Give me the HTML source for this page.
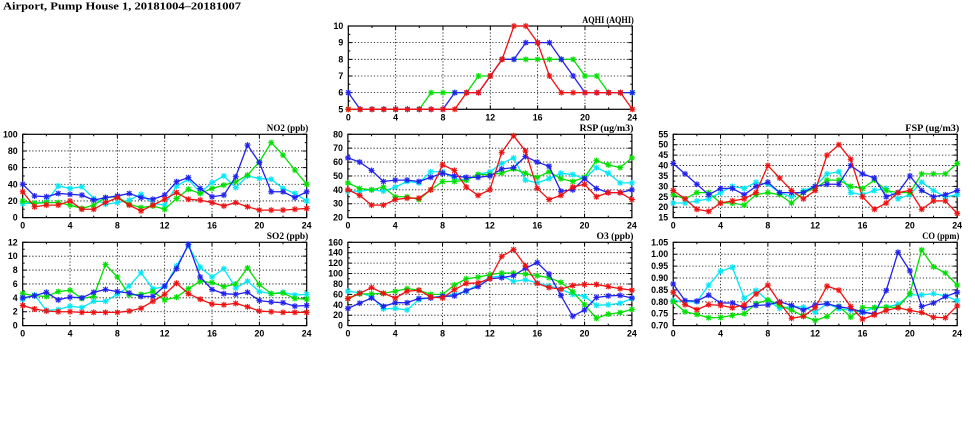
<!DOCTYPE html>
<html>
<head>
<meta charset="utf-8">
<style>
html,body{margin:0;padding:0;background:#fff;}
svg{display:block;}
.s{fill:none;stroke-width:1.3;vector-effect:non-scaling-stroke;stroke-linejoin:round;}
.tl{font-family:"Liberation Sans",sans-serif;font-weight:bold;font-size:8.8px;fill:#000;}
.ty{text-anchor:end;}
.tx{text-anchor:middle;}
.tt{font-family:"Liberation Serif",serif;font-weight:bold;font-size:9px;text-anchor:end;fill:#000;}
.gr{stroke:#000;stroke-width:0.8;stroke-dasharray:1.2 2;fill:none;}
.tk{stroke:#000;}
</style>
</head>
<body>
<svg width="975" height="447" viewBox="0 0 975 447" xmlns="http://www.w3.org/2000/svg">
<rect width="975" height="447" fill="#fff"/>
<defs>
<g id="pB"><rect x="-2.5" y="-2.5" width="5" height="5" fill="#2020f0" fill-opacity=".25"/><path d="M-3 0H3M0-3V3M-2.2-2.2L2.2 2.2M-2.2 2.2L2.2-2.2" stroke="#2020f0" stroke-width="1"/></g>
<g id="pC"><rect x="-2.5" y="-2.5" width="5" height="5" fill="#00e8f8" fill-opacity=".25"/><path d="M-3 0H3M0-3V3M-2.2-2.2L2.2 2.2M-2.2 2.2L2.2-2.2" stroke="#00e8f8" stroke-width="1"/></g>
<g id="pG"><rect x="-2.5" y="-2.5" width="5" height="5" fill="#00e000" fill-opacity=".25"/><path d="M-3 0H3M0-3V3M-2.2-2.2L2.2 2.2M-2.2 2.2L2.2-2.2" stroke="#00e000" stroke-width="1"/></g>
<g id="pR"><rect x="-2.5" y="-2.5" width="5" height="5" fill="#f01010" fill-opacity=".25"/><path d="M-3 0H3M0-3V3M-2.2-2.2L2.2 2.2M-2.2 2.2L2.2-2.2" stroke="#f01010" stroke-width="1"/></g>

<marker id="AB" viewBox="-3 -3 6 6" preserveAspectRatio="none" markerUnits="userSpaceOnUse" markerWidth="0.50704" markerHeight="0.36014" overflow="visible"><use href="#pB"/></marker>
<marker id="AG" viewBox="-3 -3 6 6" preserveAspectRatio="none" markerUnits="userSpaceOnUse" markerWidth="0.50704" markerHeight="0.36014" overflow="visible"><use href="#pG"/></marker>
<marker id="AR" viewBox="-3 -3 6 6" preserveAspectRatio="none" markerUnits="userSpaceOnUse" markerWidth="0.50704" markerHeight="0.36014" overflow="visible"><use href="#pR"/></marker>

<marker id="NB" viewBox="-3 -3 6 6" preserveAspectRatio="none" markerUnits="userSpaceOnUse" markerWidth="0.50704" markerHeight="7.2029" overflow="visible"><use href="#pB"/></marker>
<marker id="NC" viewBox="-3 -3 6 6" preserveAspectRatio="none" markerUnits="userSpaceOnUse" markerWidth="0.50704" markerHeight="7.2029" overflow="visible"><use href="#pC"/></marker>
<marker id="NG" viewBox="-3 -3 6 6" preserveAspectRatio="none" markerUnits="userSpaceOnUse" markerWidth="0.50704" markerHeight="7.2029" overflow="visible"><use href="#pG"/></marker>
<marker id="NR" viewBox="-3 -3 6 6" preserveAspectRatio="none" markerUnits="userSpaceOnUse" markerWidth="0.50704" markerHeight="7.2029" overflow="visible"><use href="#pR"/></marker>

<marker id="RB" viewBox="-3 -3 6 6" preserveAspectRatio="none" markerUnits="userSpaceOnUse" markerWidth="0.50704" markerHeight="4.3217" overflow="visible"><use href="#pB"/></marker>
<marker id="RC" viewBox="-3 -3 6 6" preserveAspectRatio="none" markerUnits="userSpaceOnUse" markerWidth="0.50704" markerHeight="4.3217" overflow="visible"><use href="#pC"/></marker>
<marker id="RG" viewBox="-3 -3 6 6" preserveAspectRatio="none" markerUnits="userSpaceOnUse" markerWidth="0.50704" markerHeight="4.3217" overflow="visible"><use href="#pG"/></marker>
<marker id="RR" viewBox="-3 -3 6 6" preserveAspectRatio="none" markerUnits="userSpaceOnUse" markerWidth="0.50704" markerHeight="4.3217" overflow="visible"><use href="#pR"/></marker>

<marker id="FB" viewBox="-3 -3 6 6" preserveAspectRatio="none" markerUnits="userSpaceOnUse" markerWidth="0.50704" markerHeight="2.8812" overflow="visible"><use href="#pB"/></marker>
<marker id="FC" viewBox="-3 -3 6 6" preserveAspectRatio="none" markerUnits="userSpaceOnUse" markerWidth="0.50704" markerHeight="2.8812" overflow="visible"><use href="#pC"/></marker>
<marker id="FG" viewBox="-3 -3 6 6" preserveAspectRatio="none" markerUnits="userSpaceOnUse" markerWidth="0.50704" markerHeight="2.8812" overflow="visible"><use href="#pG"/></marker>
<marker id="FR" viewBox="-3 -3 6 6" preserveAspectRatio="none" markerUnits="userSpaceOnUse" markerWidth="0.50704" markerHeight="2.8812" overflow="visible"><use href="#pR"/></marker>

<marker id="SB" viewBox="-3 -3 6 6" preserveAspectRatio="none" markerUnits="userSpaceOnUse" markerWidth="0.50704" markerHeight="0.86435" overflow="visible"><use href="#pB"/></marker>
<marker id="SC" viewBox="-3 -3 6 6" preserveAspectRatio="none" markerUnits="userSpaceOnUse" markerWidth="0.50704" markerHeight="0.86435" overflow="visible"><use href="#pC"/></marker>
<marker id="SG" viewBox="-3 -3 6 6" preserveAspectRatio="none" markerUnits="userSpaceOnUse" markerWidth="0.50704" markerHeight="0.86435" overflow="visible"><use href="#pG"/></marker>
<marker id="SR" viewBox="-3 -3 6 6" preserveAspectRatio="none" markerUnits="userSpaceOnUse" markerWidth="0.50704" markerHeight="0.86435" overflow="visible"><use href="#pR"/></marker>

<marker id="OB" viewBox="-3 -3 6 6" preserveAspectRatio="none" markerUnits="userSpaceOnUse" markerWidth="0.50704" markerHeight="11.5246" overflow="visible"><use href="#pB"/></marker>
<marker id="OC" viewBox="-3 -3 6 6" preserveAspectRatio="none" markerUnits="userSpaceOnUse" markerWidth="0.50704" markerHeight="11.5246" overflow="visible"><use href="#pC"/></marker>
<marker id="OG" viewBox="-3 -3 6 6" preserveAspectRatio="none" markerUnits="userSpaceOnUse" markerWidth="0.50704" markerHeight="11.5246" overflow="visible"><use href="#pG"/></marker>
<marker id="OR" viewBox="-3 -3 6 6" preserveAspectRatio="none" markerUnits="userSpaceOnUse" markerWidth="0.50704" markerHeight="11.5246" overflow="visible"><use href="#pR"/></marker>

<marker id="CB" viewBox="-3 -3 6 6" preserveAspectRatio="none" markerUnits="userSpaceOnUse" markerWidth="0.50704" markerHeight="0.02521" overflow="visible"><use href="#pB"/></marker>
<marker id="CC" viewBox="-3 -3 6 6" preserveAspectRatio="none" markerUnits="userSpaceOnUse" markerWidth="0.50704" markerHeight="0.02521" overflow="visible"><use href="#pC"/></marker>
<marker id="CG" viewBox="-3 -3 6 6" preserveAspectRatio="none" markerUnits="userSpaceOnUse" markerWidth="0.50704" markerHeight="0.02521" overflow="visible"><use href="#pG"/></marker>
<marker id="CR" viewBox="-3 -3 6 6" preserveAspectRatio="none" markerUnits="userSpaceOnUse" markerWidth="0.50704" markerHeight="0.02521" overflow="visible"><use href="#pR"/></marker>

<g id="base">
<path class="gr" d="M47.33 0V83.3M94.67 0V83.3M142 0V83.3M189.33 0V83.3M236.67 0V83.3"/>
<line class="tk" x1="-0.5" y1="81.3" x2="284.5" y2="81.3" stroke-width="4" stroke-dasharray="1 46.333"/>
<line class="tk" x1="-0.5" y1="2" x2="284.5" y2="2" stroke-width="4" stroke-dasharray="1 46.333"/>
<line class="tk" x1="23.167" y1="82.3" x2="260.833" y2="82.3" stroke-width="2" stroke-dasharray="1 46.333"/>
<line class="tk" x1="23.167" y1="1" x2="260.833" y2="1" stroke-width="2" stroke-dasharray="1 46.333"/>
<rect x="0" y="0" width="284" height="83.3" fill="none" stroke="#000" stroke-width="1.2"/>
</g>
<g id="yt166">
<line class="tk" x1="2" y1="-0.5" x2="2" y2="83.8" stroke-width="4" stroke-dasharray="1 15.66"/>
<line class="tk" x1="282" y1="-0.5" x2="282" y2="83.8" stroke-width="4" stroke-dasharray="1 15.66"/>
<line class="tk" x1="1" y1="7.83" x2="1" y2="75.47" stroke-width="2" stroke-dasharray="1 15.66"/>
<line class="tk" x1="283" y1="7.83" x2="283" y2="75.47" stroke-width="2" stroke-dasharray="1 15.66"/>
</g>
<g id="yt138">
<line class="tk" x1="2" y1="-0.5" x2="2" y2="83.8" stroke-width="4" stroke-dasharray="1 12.883"/>
<line class="tk" x1="282" y1="-0.5" x2="282" y2="83.8" stroke-width="4" stroke-dasharray="1 12.883"/>
<line class="tk" x1="1" y1="6.44" x2="1" y2="76.86" stroke-width="2" stroke-dasharray="1 12.883"/>
<line class="tk" x1="283" y1="6.44" x2="283" y2="76.86" stroke-width="2" stroke-dasharray="1 12.883"/>
</g>
<g id="yt104">
<line class="tk" x1="2" y1="-0.5" x2="2" y2="83.8" stroke-width="4" stroke-dasharray="1 9.4125"/>
<line class="tk" x1="282" y1="-0.5" x2="282" y2="83.8" stroke-width="4" stroke-dasharray="1 9.4125"/>
<line class="tk" x1="1" y1="4.706" x2="1" y2="78.594" stroke-width="2" stroke-dasharray="1 9.4125"/>
<line class="tk" x1="283" y1="4.706" x2="283" y2="78.594" stroke-width="2" stroke-dasharray="1 9.4125"/>
</g>
<g id="yt119">
<line class="tk" x1="2" y1="-0.5" x2="2" y2="83.8" stroke-width="4" stroke-dasharray="1 10.9"/>
<line class="tk" x1="282" y1="-0.5" x2="282" y2="83.8" stroke-width="4" stroke-dasharray="1 10.9"/>
<line class="tk" x1="1" y1="5.45" x2="1" y2="77.85" stroke-width="2" stroke-dasharray="1 10.9"/>
<line class="tk" x1="283" y1="5.45" x2="283" y2="77.85" stroke-width="2" stroke-dasharray="1 10.9"/>
</g>
</defs>

<text x="3" y="9.5" font-family="Liberation Serif, serif" font-weight="bold" font-size="10.5" textLength="238" lengthAdjust="spacingAndGlyphs">Airport, Pump House 1, 20181004–20181007</text>

<!-- AQHI -->
<text class="tt" x="633.8" y="23" textLength="51.5" lengthAdjust="spacingAndGlyphs">AQHI (AQHI)</text>
<g transform="translate(348.3,26)">
<path class="gr" d="M0 16.66H284M0 33.32H284M0 49.98H284M0 66.64H284"/>
<use href="#base"/><use href="#yt166"/>
<text class="tl ty" x="-5" y="3">10</text>
<text class="tl ty" x="-5" y="19.66">9</text>
<text class="tl ty" x="-5" y="36.32">8</text>
<text class="tl ty" x="-5" y="52.98">7</text>
<text class="tl ty" x="-5" y="69.64">6</text>
<text class="tl ty" x="-5" y="86.3">5</text>
<text class="tl tx" x="0" y="94.5">0</text>
<text class="tl tx" x="47.33" y="94.5">4</text>
<text class="tl tx" x="94.67" y="94.5">8</text>
<text class="tl tx" x="142" y="94.5">12</text>
<text class="tl tx" x="189.33" y="94.5">16</text>
<text class="tl tx" x="236.67" y="94.5">20</text>
<text class="tl tx" x="284" y="94.5">24</text>
<g transform="matrix(11.8333,0,0,-16.66,0,166.6)">
<polyline class="s" stroke="#00e000" style="marker:url(#AG)" points="0,5 1,5 2,5 3,5 4,5 5,5 6,5 7,6 8,6 9,6 10,6 11,7 12,7 13,8 14,8 15,8 16,8 17,8 18,8 19,8 20,7 21,7 22,6 23,6 24,6"/>
<polyline class="s" stroke="#2020f0" style="marker:url(#AB)" points="0,6 1,5 2,5 3,5 4,5 5,5 6,5 7,5 8,5 9,6 10,6 11,6 12,7 13,8 14,8 15,9 16,9 17,9 18,8 19,7 20,6 21,6 22,6 23,6 24,6"/>
<polyline class="s" stroke="#f01010" style="marker:url(#AR)" points="0,5 1,5 2,5 3,5 4,5 5,5 6,5 7,5 8,5 9,5 10,6 11,6 12,7 13,8 14,10 15,10 16,9 17,7 18,6 19,6 20,6 21,6 22,6 23,6 24,5"/>
</g>
</g>

<!-- NO2 -->
<text class="tt" x="308.3" y="131" textLength="41.5" lengthAdjust="spacingAndGlyphs">NO2 (ppb)</text>
<g transform="translate(22.7,134.3)">
<path class="gr" d="M0 16.66H284M0 33.32H284M0 49.98H284M0 66.64H284"/>
<use href="#base"/><use href="#yt166"/>
<text class="tl ty" x="-5" y="3">100</text>
<text class="tl ty" x="-5" y="19.66">80</text>
<text class="tl ty" x="-5" y="36.32">60</text>
<text class="tl ty" x="-5" y="52.98">40</text>
<text class="tl ty" x="-5" y="69.64">20</text>
<text class="tl ty" x="-5" y="86.3">0</text>
<text class="tl tx" x="0" y="94">0</text>
<text class="tl tx" x="47.33" y="94">4</text>
<text class="tl tx" x="94.67" y="94">8</text>
<text class="tl tx" x="142" y="94">12</text>
<text class="tl tx" x="189.33" y="94">16</text>
<text class="tl tx" x="236.67" y="94">20</text>
<text class="tl tx" x="284" y="94">24</text>
<g transform="matrix(11.8333,0,0,-0.833,0,83.3)">
<polyline class="s" stroke="#00e8f8" style="marker:url(#NC)" points="0,17 1,17 2,19 3,38 4,35 5,37 6,23 7,16 8,18 9,21 10,28 11,17 12,15 13,38 14,46 15,30 16,42 17,50 18,36 19,50 20,47 21,46 22,35 23,29 24,20"/>
<polyline class="s" stroke="#00e000" style="marker:url(#NG)" points="0,20 1,17 2,18 3,18 4,15 5,11 6,15 7,24 8,25 9,16 10,12 11,14 12,10 13,23 14,34 15,29 16,35 17,39 18,43 19,51 20,67 21,90 22,75 23,57 24,40"/>
<polyline class="s" stroke="#2020f0" style="marker:url(#NB)" points="0,40 1,26 2,25 3,29 4,28 5,27 6,21 7,24 8,26 9,29 10,24 11,22 12,27 13,43 14,48 15,35 16,25 17,27 18,49 19,87 20,66 21,31 22,31 23,24 24,31"/>
<polyline class="s" stroke="#f01010" style="marker:url(#NR)" points="0,31 1,13 2,15 3,15 4,20 5,10 6,10 7,18 8,24 9,15 10,8 11,15 12,22 13,30 14,22 15,21 16,18 17,14 18,18 19,13 20,9 21,9 22,9 23,10 24,11"/>
</g>
</g>

<!-- RSP -->
<text class="tt" x="633.5" y="131" textLength="54" lengthAdjust="spacingAndGlyphs">RSP (ug/m3)</text>
<g transform="translate(347.9,134.3)">
<path class="gr" d="M0 13.883H284M0 27.767H284M0 41.65H284M0 55.533H284M0 69.417H284"/>
<use href="#base"/><use href="#yt138"/>
<text class="tl ty" x="-5" y="3">80</text>
<text class="tl ty" x="-5" y="16.88">70</text>
<text class="tl ty" x="-5" y="30.77">60</text>
<text class="tl ty" x="-5" y="44.65">50</text>
<text class="tl ty" x="-5" y="58.53">40</text>
<text class="tl ty" x="-5" y="72.42">30</text>
<text class="tl ty" x="-5" y="86.3">20</text>
<text class="tl tx" x="0" y="94">0</text>
<text class="tl tx" x="47.33" y="94">4</text>
<text class="tl tx" x="94.67" y="94">8</text>
<text class="tl tx" x="142" y="94">12</text>
<text class="tl tx" x="189.33" y="94">16</text>
<text class="tl tx" x="236.67" y="94">20</text>
<text class="tl tx" x="284" y="94">24</text>
<g transform="matrix(11.8333,0,0,-1.38833,0,111.067)">
<polyline class="s" stroke="#00e8f8" style="marker:url(#RC)" points="0,39 1,39 2,40 3,39 4,42 5,46 6,45 7,53 8,53 9,48 10,47 11,51 12,53 13,59 14,63 15,47 16,45 17,48 18,52 19,51 20,48 21,56 22,52 23,45 24,45"/>
<polyline class="s" stroke="#00e000" style="marker:url(#RG)" points="0,45 1,41 2,40 3,42 4,35 5,35 6,33 7,40 8,46 9,46 10,47 11,51 12,51 13,52 14,55 15,52 16,49 17,53 18,48 19,46 20,49 21,61 22,58 23,56 24,63"/>
<polyline class="s" stroke="#2020f0" style="marker:url(#RB)" points="0,63 1,60 2,54 3,46 4,47 5,47 6,46 7,49 8,52 9,50 10,49 11,49 12,50 13,55 14,56 15,64 16,60 17,57 18,39 19,40 20,48 21,41 22,38 23,38 24,40"/>
<polyline class="s" stroke="#f01010" style="marker:url(#RR)" points="0,40 1,36 2,29 3,29 4,33 5,34 6,34 7,40 8,58 9,54 10,42 11,36 12,40 13,67 14,79 15,68 16,41 17,33 18,36 19,42 20,44 21,35 22,38 23,38 24,33"/>
</g>
</g>

<!-- FSP -->
<text class="tt" x="959.3" y="131" textLength="54" lengthAdjust="spacingAndGlyphs">FSP (ug/m3)</text>
<g transform="translate(673.2,134.3)">
<path class="gr" d="M0 10.41H284M0 20.83H284M0 31.24H284M0 41.65H284M0 52.06H284M0 62.48H284M0 72.89H284"/>
<use href="#base"/><use href="#yt104"/>
<text class="tl ty" x="-5" y="3">55</text>
<text class="tl ty" x="-5" y="13.41">50</text>
<text class="tl ty" x="-5" y="23.83">45</text>
<text class="tl ty" x="-5" y="34.24">40</text>
<text class="tl ty" x="-5" y="44.65">35</text>
<text class="tl ty" x="-5" y="55.06">30</text>
<text class="tl ty" x="-5" y="65.48">25</text>
<text class="tl ty" x="-5" y="75.89">20</text>
<text class="tl ty" x="-5" y="86.3">15</text>
<text class="tl tx" x="0" y="94">0</text>
<text class="tl tx" x="47.33" y="94">4</text>
<text class="tl tx" x="94.67" y="94">8</text>
<text class="tl tx" x="142" y="94">12</text>
<text class="tl tx" x="189.33" y="94">16</text>
<text class="tl tx" x="236.67" y="94">20</text>
<text class="tl tx" x="284" y="94">24</text>
<g transform="matrix(11.8333,0,0,-2.0825,0,114.5375)">
<polyline class="s" stroke="#00e8f8" style="marker:url(#FC)" points="0,22 1,22 2,23 3,24 4,27 5,30 6,29 7,32 8,31 9,27 10,25 11,28 12,30 13,36 14,37 15,27 16,26 17,28 18,29 19,24 20,26 21,32 22,28 23,25 24,26"/>
<polyline class="s" stroke="#00e000" style="marker:url(#FG)" points="0,26 1,24 2,27 3,27 4,22 5,22 6,21 7,26 8,27 9,26 10,22 11,27 12,29 13,33 14,33 15,30 16,29 17,33 18,28 19,27 20,27 21,36 22,36 23,36 24,41"/>
<polyline class="s" stroke="#2020f0" style="marker:url(#FB)" points="0,41 1,36 2,31 3,26 4,29 5,29 6,26 7,30 8,32 9,27 10,27 11,27 12,30 13,31 14,31 15,40 16,36 17,34 18,25 19,27 20,35 21,28 22,25 23,26 24,28"/>
<polyline class="s" stroke="#f01010" style="marker:url(#FR)" points="0,28 1,24 2,19 3,18 4,22 5,23 6,24 7,27 8,40 9,34 10,28 11,24 12,28 13,45 14,50 15,43 16,25 17,19 18,22 19,27 20,28 21,19 22,23 23,23 24,17"/>
</g>
</g>

<!-- SO2 -->
<text class="tt" x="308.3" y="238.8" textLength="41.5" lengthAdjust="spacingAndGlyphs">SO2 (ppb)</text>
<g transform="translate(22.7,242.3)">
<path class="gr" d="M0 13.883H284M0 27.767H284M0 41.65H284M0 55.533H284M0 69.417H284"/>
<use href="#base"/><use href="#yt138"/>
<text class="tl ty" x="-5" y="3">12</text>
<text class="tl ty" x="-5" y="16.88">10</text>
<text class="tl ty" x="-5" y="30.77">8</text>
<text class="tl ty" x="-5" y="44.65">6</text>
<text class="tl ty" x="-5" y="58.53">4</text>
<text class="tl ty" x="-5" y="72.42">2</text>
<text class="tl ty" x="-5" y="86.3">0</text>
<text class="tl tx" x="0" y="94">0</text>
<text class="tl tx" x="47.33" y="94">4</text>
<text class="tl tx" x="94.67" y="94">8</text>
<text class="tl tx" x="142" y="94">12</text>
<text class="tl tx" x="189.33" y="94">16</text>
<text class="tl tx" x="236.67" y="94">20</text>
<text class="tl tx" x="284" y="94">24</text>
<g transform="matrix(11.8333,0,0,-6.94167,0,83.3)">
<polyline class="s" stroke="#00e8f8" style="marker:url(#SC)" points="0,3.8 1,4.4 2,2.2 3,2.3 4,2.8 5,2.6 6,3.5 7,3.5 8,4.5 9,5.7 10,7.6 11,5.3 12,5.6 13,8.6 14,11.5 15,8.4 16,7 17,8.2 18,5.4 19,6.4 20,4.9 21,4.6 22,4.8 23,4.4 24,4.5"/>
<polyline class="s" stroke="#00e000" style="marker:url(#SG)" points="0,4.6 1,4.3 2,4.2 3,4.9 4,5.1 5,3.9 6,4.2 7,8.8 8,7 9,4.4 10,4.5 11,4.9 12,3.7 13,4.1 14,5.3 15,6.4 16,6.2 17,5.6 18,6 19,8.3 20,5.9 21,4.6 22,4.7 23,3.9 24,3.8"/>
<polyline class="s" stroke="#2020f0" style="marker:url(#SB)" points="0,4 1,4.3 2,4.8 3,3.7 4,4.1 5,4 6,4.8 7,5.2 8,4.9 9,4.7 10,4.2 11,4.2 12,5.7 13,8.2 14,11.7 15,7 16,5.2 17,4.6 18,4.5 19,4.8 20,3.6 21,3.4 22,3.3 23,2.8 24,2.9"/>
<polyline class="s" stroke="#f01010" style="marker:url(#SR)" points="0,2.9 1,2.4 2,2.1 3,2 4,2 5,1.9 6,1.9 7,1.9 8,1.9 9,2.1 10,2.5 11,3.5 12,4.5 13,6.1 14,4.6 15,3.8 16,3.1 17,3 18,3.2 19,2.7 20,2.1 21,2 22,1.9 23,1.9 24,1.9"/>
</g>
</g>

<!-- O3 -->
<text class="tt" x="633.5" y="238.8" textLength="37" lengthAdjust="spacingAndGlyphs">O3 (ppb)</text>
<g transform="translate(347.9,242.3)">
<path class="gr" d="M0 10.41H284M0 20.83H284M0 31.24H284M0 41.65H284M0 52.06H284M0 62.48H284M0 72.89H284"/>
<use href="#base"/><use href="#yt104"/>
<text class="tl ty" x="-5" y="3">160</text>
<text class="tl ty" x="-5" y="13.41">140</text>
<text class="tl ty" x="-5" y="23.83">120</text>
<text class="tl ty" x="-5" y="34.24">100</text>
<text class="tl ty" x="-5" y="44.65">80</text>
<text class="tl ty" x="-5" y="55.06">60</text>
<text class="tl ty" x="-5" y="65.48">40</text>
<text class="tl ty" x="-5" y="75.89">20</text>
<text class="tl ty" x="-5" y="86.3">0</text>
<text class="tl tx" x="0" y="94">0</text>
<text class="tl tx" x="47.33" y="94">4</text>
<text class="tl tx" x="94.67" y="94">8</text>
<text class="tl tx" x="142" y="94">12</text>
<text class="tl tx" x="189.33" y="94">16</text>
<text class="tl tx" x="236.67" y="94">20</text>
<text class="tl tx" x="284" y="94">24</text>
<g transform="matrix(11.8333,0,0,-0.520625,0,83.3)">
<polyline class="s" stroke="#00e8f8" style="marker:url(#OC)" points="0,66 1,63 2,56 3,32 4,33 5,30 6,50 7,54 8,57 9,60 10,66 11,79 12,93 13,95 14,85 15,88 16,82 17,76 18,70 19,60 20,56 21,39 22,40 23,43 24,52"/>
<polyline class="s" stroke="#00e000" style="marker:url(#OG)" points="0,52 1,61 2,61 3,62 4,66 5,71 6,68 7,60 8,60 9,78 10,90 11,93 12,98 13,101 14,101 15,99 16,96 17,92 18,83 19,65 20,40 21,14 22,22 23,25 24,31"/>
<polyline class="s" stroke="#2020f0" style="marker:url(#OB)" points="0,33 1,43 2,53 3,37 4,44 5,44 6,52 7,53 8,56 9,57 10,67 11,75 12,90 13,92 14,96 15,110 16,121 17,99 18,58 19,18 20,30 21,54 22,57 23,58 24,53"/>
<polyline class="s" stroke="#f01010" style="marker:url(#OR)" points="0,52 1,62 2,73 3,62 4,53 5,66 6,68 7,55 8,53 9,69 10,81 11,82 12,90 13,133 14,146 15,115 16,81 17,73 18,70 19,77 20,79 21,79 22,75 23,71 24,68"/>
</g>
</g>

<!-- CO -->
<text class="tt" x="959.3" y="238.8" textLength="37" lengthAdjust="spacingAndGlyphs">CO (ppm)</text>
<g transform="translate(673.2,242.3)">
<path class="gr" d="M0 11.9H284M0 23.8H284M0 35.7H284M0 47.6H284M0 59.5H284M0 71.4H284"/>
<use href="#base"/><use href="#yt119"/>
<text class="tl ty" x="-5" y="3">1.05</text>
<text class="tl ty" x="-5" y="14.9">1.00</text>
<text class="tl ty" x="-5" y="26.8">0.95</text>
<text class="tl ty" x="-5" y="38.7">0.90</text>
<text class="tl ty" x="-5" y="50.6">0.85</text>
<text class="tl ty" x="-5" y="62.5">0.80</text>
<text class="tl ty" x="-5" y="74.4">0.75</text>
<text class="tl ty" x="-5" y="86.3">0.70</text>
<text class="tl tx" x="0" y="94">0</text>
<text class="tl tx" x="47.33" y="94">4</text>
<text class="tl tx" x="94.67" y="94">8</text>
<text class="tl tx" x="142" y="94">12</text>
<text class="tl tx" x="189.33" y="94">16</text>
<text class="tl tx" x="236.67" y="94">20</text>
<text class="tl tx" x="284" y="94">24</text>
<g transform="matrix(11.8333,0,0,-238,0,249.9)">
<polyline class="s" stroke="#00e8f8" style="marker:url(#CC)" points="0,.805 1,.801 2,.8 3,.87 4,.928 5,.945 6,.815 7,.848 8,.805 9,.772 10,.78 11,.778 12,.756 13,.792 14,.771 15,.765 16,.755 17,.776 18,.778 19,.789 20,.829 21,.829 22,.834 23,.825 24,.805"/>
<polyline class="s" stroke="#00e000" style="marker:url(#CG)" points="0,.8 1,.758 2,.747 3,.733 4,.734 5,.743 6,.75 7,.792 8,.808 9,.785 10,.765 11,.74 12,.722 13,.738 14,.781 15,.736 16,.775 17,.775 18,.777 19,.777 20,.835 21,1.018 22,.947 23,.921 24,.87"/>
<polyline class="s" stroke="#2020f0" style="marker:url(#CB)" points="0,.875 1,.805 2,.803 3,.828 4,.795 5,.795 6,.775 7,.785 8,.787 9,.8 10,.785 11,.765 12,.787 13,.792 14,.779 15,.772 16,.757 17,.749 18,.847 19,1.008 20,.93 21,.78 22,.795 23,.822 24,.84"/>
<polyline class="s" stroke="#f01010" style="marker:url(#CR)" points="0,.84 1,.788 2,.767 3,.788 4,.785 5,.775 6,.787 7,.833 8,.87 9,.796 10,.731 11,.739 12,.775 13,.866 14,.849 15,.78 16,.727 17,.745 18,.764 19,.775 20,.764 21,.755 22,.735 23,.733 24,.783"/>
</g>
</g>
</svg>
</body>
</html>
